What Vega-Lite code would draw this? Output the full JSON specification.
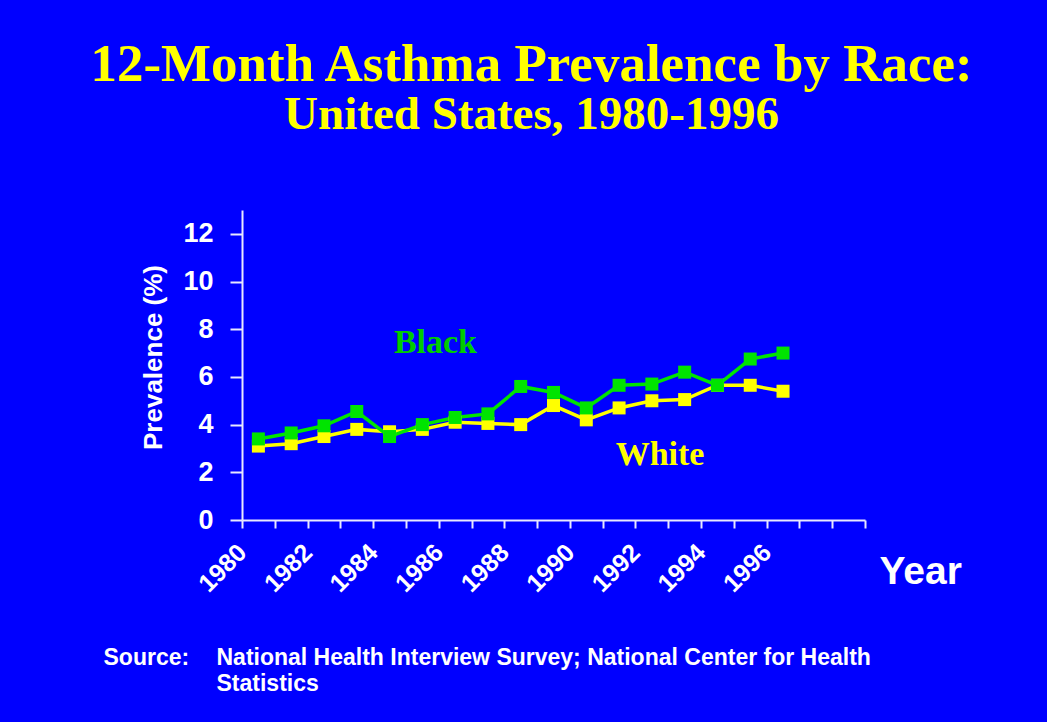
{
  "$schema": "https://vega.github.io/schema/vega-lite/v6.json",
  "width": 623,
  "height": 310,
  "autosize": {"type": "none"},
  "padding": {"left": 242, "top": 210, "right": 182, "bottom": 202},
  "background": "#0000FF",
  "config": {"view": {"stroke": null}},
  "title": {
    "text": "12-Month Asthma Prevalence by Race:",
    "subtitle": "United States, 1980-1996",
    "anchor": "middle",
    "frame": "group",
    "dx": -22,
    "offset": 72,
    "font": "Liberation Serif",
    "fontSize": 53,
    "fontWeight": "bold",
    "color": "#FFFF00",
    "subtitleFont": "Liberation Serif",
    "subtitleFontSize": 47,
    "subtitleFontWeight": "bold",
    "subtitleColor": "#FFFF00",
    "subtitlePadding": 0
  },
  "datasets": {
    "prevalence": [
      {"race": "White", "year": 1980, "prevalence": 3.1},
      {"race": "White", "year": 1981, "prevalence": 3.2},
      {"race": "White", "year": 1982, "prevalence": 3.5},
      {"race": "White", "year": 1983, "prevalence": 3.8},
      {"race": "White", "year": 1984, "prevalence": 3.7},
      {"race": "White", "year": 1985, "prevalence": 3.8},
      {"race": "White", "year": 1986, "prevalence": 4.1},
      {"race": "White", "year": 1987, "prevalence": 4.05},
      {"race": "White", "year": 1988, "prevalence": 4.0},
      {"race": "White", "year": 1989, "prevalence": 4.8},
      {"race": "White", "year": 1990, "prevalence": 4.2},
      {"race": "White", "year": 1991, "prevalence": 4.7},
      {"race": "White", "year": 1992, "prevalence": 5.0},
      {"race": "White", "year": 1993, "prevalence": 5.05},
      {"race": "White", "year": 1994, "prevalence": 5.65},
      {"race": "White", "year": 1995, "prevalence": 5.65},
      {"race": "White", "year": 1996, "prevalence": 5.4},
      {"race": "Black", "year": 1980, "prevalence": 3.4},
      {"race": "Black", "year": 1981, "prevalence": 3.65},
      {"race": "Black", "year": 1982, "prevalence": 3.95},
      {"race": "Black", "year": 1983, "prevalence": 4.55},
      {"race": "Black", "year": 1984, "prevalence": 3.5},
      {"race": "Black", "year": 1985, "prevalence": 4.0},
      {"race": "Black", "year": 1986, "prevalence": 4.3},
      {"race": "Black", "year": 1987, "prevalence": 4.45},
      {"race": "Black", "year": 1988, "prevalence": 5.6},
      {"race": "Black", "year": 1989, "prevalence": 5.35},
      {"race": "Black", "year": 1990, "prevalence": 4.7},
      {"race": "Black", "year": 1991, "prevalence": 5.65},
      {"race": "Black", "year": 1992, "prevalence": 5.7},
      {"race": "Black", "year": 1993, "prevalence": 6.2},
      {"race": "Black", "year": 1994, "prevalence": 5.65},
      {"race": "Black", "year": 1995, "prevalence": 6.75},
      {"race": "Black", "year": 1996, "prevalence": 7.0}
    ],
    "seriesLabels": [
      {"race": "Black", "year": 1985.4, "prevalence": 7.0},
      {"race": "White", "year": 1992.25, "prevalence": 2.3}
    ]
  },
  "layer": [
    {
      "data": {"name": "prevalence"},
      "mark": {"type": "line", "strokeWidth": 3.5},
      "encoding": {
        "x": {
          "field": "year",
          "type": "quantitative",
          "scale": {"domain": [1979.5, 1998.5], "nice": false, "zero": false},
          "axis": {
            "values": [1979.5, 1980.5, 1981.5, 1982.5, 1983.5, 1984.5, 1985.5, 1986.5, 1987.5, 1988.5, 1989.5, 1990.5, 1991.5, 1992.5, 1993.5, 1994.5, 1995.5, 1996.5, 1997.5, 1998.5],
            "labelExpr": "(datum.value + 0.5) % 2 == 0 && datum.value < 1996 ? format(datum.value + 0.5, 'd') : ''",
            "labelAngle": -45,
            "labelAlign": "right",
            "labelBaseline": "middle",
            "labelFont": "Liberation Sans",
            "labelFontSize": 25,
            "labelFontWeight": "bold",
            "labelColor": "#FFFFFF",
            "labelPadding": 20,
            "labelOverlap": false,
            "labelFlush": false,
            "tickSize": 8,
            "tickWidth": 2,
            "tickColor": "#E8E8FF",
            "domainColor": "#E8E8FF",
            "domainWidth": 2,
            "grid": false,
            "title": "Year",
            "titleFont": "Liberation Sans",
            "titleFontSize": 39,
            "titleFontWeight": "bold",
            "titleColor": "#FFFFFF",
            "titleX": 637,
            "titleY": 63,
            "titleAlign": "left",
            "titleBaseline": "alphabetic"
          }
        },
        "y": {
          "field": "prevalence",
          "type": "quantitative",
          "scale": {"domain": [0, 13], "nice": false},
          "axis": {
            "values": [0, 2, 4, 6, 8, 10, 12],
            "labelFont": "Liberation Sans",
            "labelFontSize": 27,
            "labelFontWeight": "bold",
            "labelColor": "#FFFFFF",
            "labelPadding": 17,
            "labelFlush": false,
            "tickSize": 12,
            "tickWidth": 2,
            "tickColor": "#E8E8FF",
            "domainColor": "#E8E8FF",
            "domainWidth": 2,
            "grid": false,
            "title": "Prevalence (%)",
            "titleFont": "Liberation Sans",
            "titleFontSize": 26,
            "titleFontWeight": "bold",
            "titleColor": "#FFFFFF",
            "titlePadding": 16,
            "titleY": 147
          }
        },
        "color": {
          "field": "race",
          "type": "nominal",
          "scale": {"domain": ["White", "Black"], "range": ["#FFFF00", "#00E400"]},
          "legend": null
        }
      }
    },
    {
      "data": {"name": "prevalence"},
      "mark": {"type": "point", "shape": "square", "filled": true, "size": 169, "opacity": 1},
      "encoding": {
        "x": {
          "field": "year",
          "type": "quantitative",
          "axis": {
            "orient": "bottom",
            "domain": false,
            "ticks": false,
            "labels": false,
            "grid": false,
            "title": "Source:",
            "titleFont": "Liberation Sans",
            "titleFontSize": 23,
            "titleFontWeight": "bold",
            "titleColor": "#FFFFFF",
            "titleX": -139,
            "titleY": 144,
            "titleAlign": "left",
            "titleBaseline": "alphabetic"
          }
        },
        "y": {"field": "prevalence", "type": "quantitative"},
        "color": {
          "field": "race",
          "type": "nominal",
          "scale": {"domain": ["White", "Black"], "range": ["#FFFF00", "#00E400"]},
          "legend": null
        }
      }
    },
    {
      "data": {"name": "seriesLabels"},
      "mark": {"type": "text", "font": "Liberation Serif", "fontSize": 34, "fontWeight": "bold", "align": "center", "baseline": "alphabetic"},
      "encoding": {
        "x": {
          "field": "year",
          "type": "quantitative",
          "axis": {
            "orient": "bottom",
            "domain": false,
            "ticks": false,
            "labels": false,
            "grid": false,
            "title": ["National Health Interview Survey; National Center for Health", "Statistics"],
            "titleFont": "Liberation Sans",
            "titleFontSize": 23,
            "titleFontWeight": "bold",
            "titleColor": "#FFFFFF",
            "titleLineHeight": 26,
            "titleX": -26,
            "titleY": 144,
            "titleAlign": "left",
            "titleBaseline": "alphabetic"
          }
        },
        "y": {"field": "prevalence", "type": "quantitative"},
        "text": {"field": "race"},
        "color": {
          "field": "race",
          "type": "nominal",
          "scale": {"domain": ["Black", "White"], "range": ["#00CC00", "#FFFF00"]},
          "legend": null
        }
      }
    }
  ],
  "resolve": {"axis": {"x": "independent"}, "scale": {"color": "independent"}}
}
